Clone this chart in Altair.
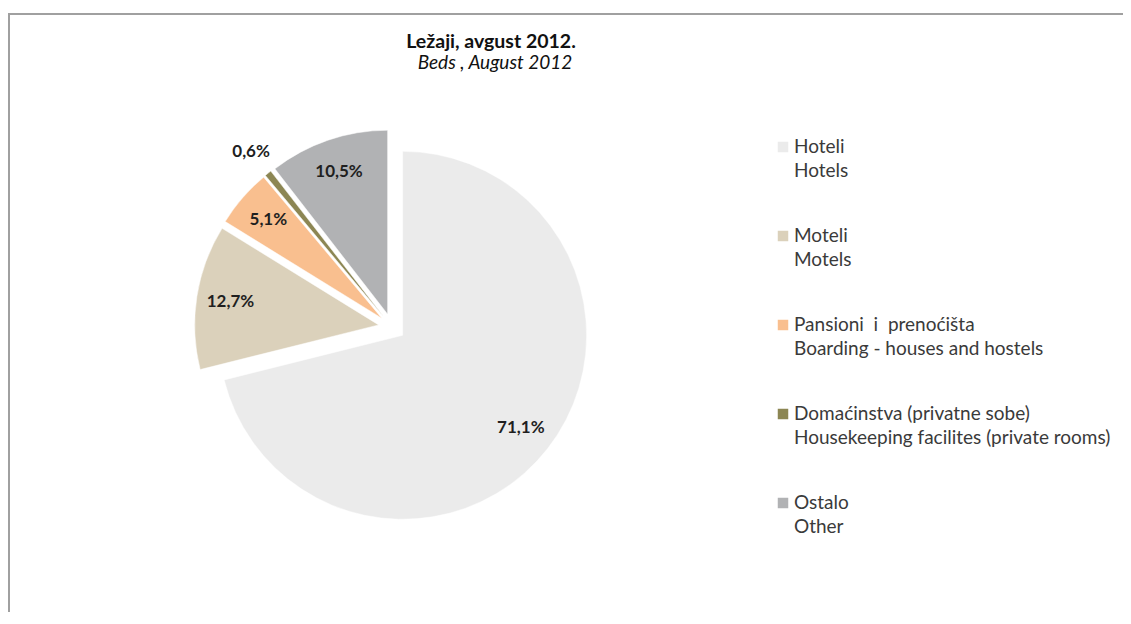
import altair as alt
import pandas as pd

# ---- data ----
names_sr = ["Hoteli", "Moteli", "Pansioni\u00a0 i\u00a0 prenoćišta", "Domaćinstva (privatne sobe)", "Ostalo"]
names_en = ["Hotels", "Motels", "Boarding - houses and hostels",
            "Housekeeping facilites (private rooms)", "Other"]
shares = [71.1, 12.7, 5.1, 0.6, 10.5]
labels = ["71,1%", "12,7%", "5,1%", "0,6%", "10,5%"]
colors = ["#ebebeb", "#dbd1bb", "#f9bf8f", "#8c8653", "#b1b2b4"]

title_sr = "Ležaji, avgust 2012."
title_en = "Beds , August 2012"

W, H = 1115, 604
CX, CY, R, EXPL = 384, 319, 184, 13.5
FONT = "Lato"

df = pd.DataFrame({
    "order": list(range(len(shares))),
    "sr": names_sr,
    "en": names_en,
    "share": shares,
    "label": labels,
})

base = alt.Chart(df).transform_window(
    cum="sum(share)", sort=[alt.SortField("order")]
).transform_joinaggregate(
    total="sum(share)"
).transform_calculate(
    t0="2*PI*(datum.cum-datum.share)/datum.total",
    t1="2*PI*datum.cum/datum.total",
).transform_calculate(
    mid="(datum.t0+datum.t1)/2"
).transform_calculate(
    cx=f"{CX}+{EXPL}*sin(datum.mid)",
    cy=f"{CY}-{EXPL}*cos(datum.mid)",
    lr="datum.share < 1 ? 211 : 150",
).transform_calculate(
    lx="datum.cx+datum.lr*sin(datum.mid)",
    ly="datum.cy-datum.lr*cos(datum.mid)",
    gy="139+datum.order*89",
)

color_scale = alt.Scale(domain=names_sr, range=colors)

slices = base.mark_arc(radius=R, stroke="white", strokeWidth=0.5).encode(
    x=alt.X("cx:Q", scale=None, axis=None),
    y=alt.Y("cy:Q", scale=None, axis=None),
    theta=alt.Theta("t0:Q", scale=None),
    theta2=alt.Theta2("t1:Q"),
    color=alt.Color("sr:N", scale=color_scale, legend=None),
)

slice_labels = base.mark_text(font=FONT, fontSize=17, fontWeight="bold", color="#1f1f1f",
                              align="center", baseline="middle").encode(
    x=alt.X("lx:Q", scale=None, axis=None),
    y=alt.Y("ly:Q", scale=None, axis=None),
    text="label:N",
)

leg_sq = base.mark_square(size=110, opacity=1).encode(
    x=alt.value(775),
    y=alt.Y("gy:Q", scale=None, axis=None),
    color=alt.Color("sr:N", scale=color_scale, legend=None),
)
leg_t1 = base.mark_text(font=FONT, fontSize=19, color="#3a3a3a", align="left",
                        baseline="middle").encode(
    x=alt.value(786), y=alt.Y("gy:Q", scale=None, axis=None), text="sr:N")
leg_t2 = base.mark_text(font=FONT, fontSize=19, color="#3a3a3a", align="left",
                        baseline="middle", dy=24).encode(
    x=alt.value(786), y=alt.Y("gy:Q", scale=None, axis=None), text="en:N")

one = alt.Data(values=[{}])
t1 = alt.Chart(one).mark_text(font=FONT, fontSize=19.5, fontWeight="bold", color="#111111",
                              align="center", baseline="middle").encode(
    x=alt.value(483), y=alt.value(34), text=alt.value(title_sr))
t2 = alt.Chart(one).mark_text(font=FONT, fontSize=19, fontStyle="italic", color="#111111",
                              align="center", baseline="middle").encode(
    x=alt.value(487), y=alt.value(55), text=alt.value(title_en))

border_top = alt.Chart(one).mark_rule(color="#a0a0a0", strokeWidth=2).encode(
    x=alt.value(0), x2=alt.value(W), y=alt.value(6))
border_left = alt.Chart(one).mark_rule(color="#a0a0a0", strokeWidth=2).encode(
    x=alt.value(1), y=alt.value(5), y2=alt.value(H))

chart = alt.layer(border_top, border_left, slices, slice_labels, leg_sq, leg_t1, leg_t2, t1, t2).properties(
    width=W, height=H, padding=0,
    autosize=alt.AutoSizeParams(type="none"),
    view=alt.ViewBackground(stroke=None, strokeWidth=0, strokeOpacity=0),
).configure_view(strokeOpacity=0, strokeWidth=0).configure(background="white")

chart.save("out.html", embed_options={"renderer": "svg", "actions": False})
